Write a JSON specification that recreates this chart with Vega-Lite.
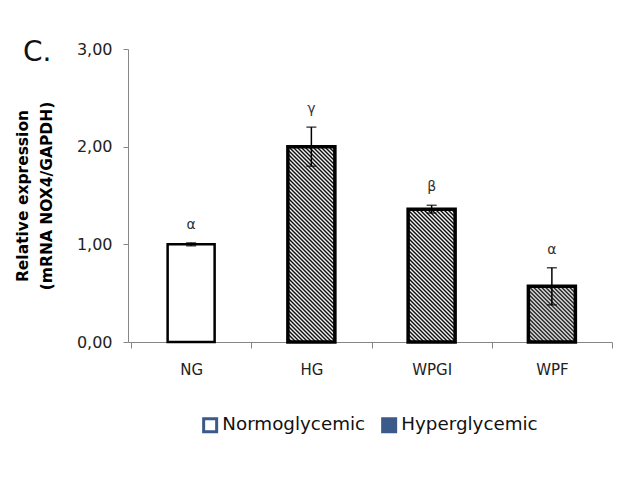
{
"$schema":"https://vega.github.io/schema/vega-lite/v6.json",
"width":484,"height":293,
"autosize":{"type":"none"},
"padding":{"left":128,"top":49,"right":24,"bottom":144},
"background":"white",
"config":{"view":{"stroke":null},"font":"DejaVu Sans"},
"title":{"text":"C.","anchor":"start","frame":"group","font":"DejaVu Sans","fontSize":28,"fontWeight":"normal","color":"#111","baseline":"alphabetic","offset":0,"dx":-105,"dy":48},
"data":{"values":[
{"treatment":"NG","glycemia":"Normoglycemic","value":1.00,"lower":0.985,"upper":1.015,"letter":"α"},
{"treatment":"HG","glycemia":"Hyperglycemic","value":2.00,"lower":1.80,"upper":2.20,"letter":"γ"},
{"treatment":"WPGI","glycemia":"Hyperglycemic","value":1.36,"lower":1.32,"upper":1.40,"letter":"β"},
{"treatment":"WPF","glycemia":"Hyperglycemic","value":0.57,"lower":0.38,"upper":0.76,"letter":"α"}
]},
"encoding":{"x":{"field":"treatment","type":"nominal","sort":["NG","HG","WPGI","WPF"],"scale":{"paddingInner":0,"paddingOuter":0.0125,"align":1},"axis":{"title":null,"labelAngle":0,"tickBand":"extent","domainColor":"#868686","tickColor":"#868686","tickSize":6,"labelPadding":14,"labelFont":"DejaVu Sans","labelFontSize":15,"labelColor":"#222"}}},
"layer":[
{"mark":{"type":"bar","width":47},
 "encoding":{
  "y":{"field":"value","type":"quantitative","scale":{"domain":[0,3],"nice":false},"axis":{"title":["Relative expression","(mRNA NOX4/GAPDH)"],"values":[0,1,2,3],"labelExpr":"replace(format(datum.value,'.2f'),'.',',')","grid":false,"domainColor":"#868686","tickColor":"#868686","tickSize":5,"labelPadding":11,"labelFont":"DejaVu Sans","labelFontSize":16,"labelColor":"#222","titleFont":"DejaVu Sans","titleFontSize":15.5,"titleFontWeight":"bold","titleColor":"#000","titleLineHeight":23.5,"titlePadding":22}},
  "fill":{"field":"glycemia","type":"nominal","scale":{"domain":["Normoglycemic","Hyperglycemic"],"range":["white","#3b5a8a"]},"legend":{"title":null,"orient":"none","legendX":73,"legendY":367,"direction":"horizontal","symbolType":"square","symbolSize":169,"symbolStrokeColor":"#3b5a8a","symbolStrokeWidth":3,"labelFont":"DejaVu Sans","labelFontSize":18.3,"labelColor":"#111","labelOffset":3,"columnPadding":10}}
 }},
{"mark":{"type":"bar","width":47,"stroke":"black"},
 "encoding":{
  "y":{"field":"value","type":"quantitative","axis":{"title":["Relative expression","(mRNA NOX4/GAPDH)"]}},
  "strokeWidth":{"condition":{"test":"datum.treatment==='NG'","value":2.5},"value":3.5},
  "fill":{"condition":[
   {"test":"datum.treatment==='HG'","value":{"gradient":"linear","x1":0,"y1":1,"x2":0.4658,"y2":-0.9357,"stops":[
{"offset":0,"color":"#000"},{"offset":0.005,"color":"#fff"},{"offset":0.01,"color":"#000"},{"offset":0.015,"color":"#fff"},{"offset":0.02,"color":"#000"},{"offset":0.025,"color":"#fff"},{"offset":0.03,"color":"#000"},{"offset":0.035,"color":"#fff"},{"offset":0.04,"color":"#000"},{"offset":0.045,"color":"#fff"},
{"offset":0.05,"color":"#000"},{"offset":0.055,"color":"#fff"},{"offset":0.06,"color":"#000"},{"offset":0.065,"color":"#fff"},{"offset":0.07,"color":"#000"},{"offset":0.075,"color":"#fff"},{"offset":0.08,"color":"#000"},{"offset":0.085,"color":"#fff"},{"offset":0.09,"color":"#000"},{"offset":0.095,"color":"#fff"},
{"offset":0.1,"color":"#000"},{"offset":0.105,"color":"#fff"},{"offset":0.11,"color":"#000"},{"offset":0.115,"color":"#fff"},{"offset":0.12,"color":"#000"},{"offset":0.125,"color":"#fff"},{"offset":0.13,"color":"#000"},{"offset":0.135,"color":"#fff"},{"offset":0.14,"color":"#000"},{"offset":0.145,"color":"#fff"},
{"offset":0.15,"color":"#000"},{"offset":0.155,"color":"#fff"},{"offset":0.16,"color":"#000"},{"offset":0.165,"color":"#fff"},{"offset":0.17,"color":"#000"},{"offset":0.175,"color":"#fff"},{"offset":0.18,"color":"#000"},{"offset":0.185,"color":"#fff"},{"offset":0.19,"color":"#000"},{"offset":0.195,"color":"#fff"},
{"offset":0.2,"color":"#000"},{"offset":0.205,"color":"#fff"},{"offset":0.21,"color":"#000"},{"offset":0.215,"color":"#fff"},{"offset":0.22,"color":"#000"},{"offset":0.225,"color":"#fff"},{"offset":0.23,"color":"#000"},{"offset":0.235,"color":"#fff"},{"offset":0.24,"color":"#000"},{"offset":0.245,"color":"#fff"},
{"offset":0.25,"color":"#000"},{"offset":0.255,"color":"#fff"},{"offset":0.26,"color":"#000"},{"offset":0.265,"color":"#fff"},{"offset":0.27,"color":"#000"},{"offset":0.275,"color":"#fff"},{"offset":0.28,"color":"#000"},{"offset":0.285,"color":"#fff"},{"offset":0.29,"color":"#000"},{"offset":0.295,"color":"#fff"},
{"offset":0.3,"color":"#000"},{"offset":0.305,"color":"#fff"},{"offset":0.31,"color":"#000"},{"offset":0.315,"color":"#fff"},{"offset":0.32,"color":"#000"},{"offset":0.325,"color":"#fff"},{"offset":0.33,"color":"#000"},{"offset":0.335,"color":"#fff"},{"offset":0.34,"color":"#000"},{"offset":0.345,"color":"#fff"},
{"offset":0.35,"color":"#000"},{"offset":0.355,"color":"#fff"},{"offset":0.36,"color":"#000"},{"offset":0.365,"color":"#fff"},{"offset":0.37,"color":"#000"},{"offset":0.375,"color":"#fff"},{"offset":0.38,"color":"#000"},{"offset":0.385,"color":"#fff"},{"offset":0.39,"color":"#000"},{"offset":0.395,"color":"#fff"},
{"offset":0.4,"color":"#000"},{"offset":0.405,"color":"#fff"},{"offset":0.41,"color":"#000"},{"offset":0.415,"color":"#fff"},{"offset":0.42,"color":"#000"},{"offset":0.425,"color":"#fff"},{"offset":0.43,"color":"#000"},{"offset":0.435,"color":"#fff"},{"offset":0.44,"color":"#000"},{"offset":0.445,"color":"#fff"},
{"offset":0.45,"color":"#000"},{"offset":0.455,"color":"#fff"},{"offset":0.46,"color":"#000"},{"offset":0.465,"color":"#fff"},{"offset":0.47,"color":"#000"},{"offset":0.475,"color":"#fff"},{"offset":0.48,"color":"#000"},{"offset":0.485,"color":"#fff"},{"offset":0.49,"color":"#000"},{"offset":0.495,"color":"#fff"},
{"offset":0.5,"color":"#000"},{"offset":0.505,"color":"#fff"},{"offset":0.51,"color":"#000"},{"offset":0.515,"color":"#fff"},{"offset":0.52,"color":"#000"},{"offset":0.525,"color":"#fff"},{"offset":0.53,"color":"#000"},{"offset":0.535,"color":"#fff"},{"offset":0.54,"color":"#000"},{"offset":0.545,"color":"#fff"},
{"offset":0.55,"color":"#000"},{"offset":0.555,"color":"#fff"},{"offset":0.56,"color":"#000"},{"offset":0.565,"color":"#fff"},{"offset":0.57,"color":"#000"},{"offset":0.575,"color":"#fff"},{"offset":0.58,"color":"#000"},{"offset":0.585,"color":"#fff"},{"offset":0.59,"color":"#000"},{"offset":0.595,"color":"#fff"},
{"offset":0.6,"color":"#000"},{"offset":0.605,"color":"#fff"},{"offset":0.61,"color":"#000"}
   ]}},
   {"test":"datum.treatment==='WPGI'","value":{"gradient":"linear","x1":0,"y1":1,"x2":0.9468,"y2":-1.6757,"stops":[
{"offset":0,"color":"#000"},{"offset":0.005,"color":"#fff"},{"offset":0.01,"color":"#000"},{"offset":0.015,"color":"#fff"},{"offset":0.02,"color":"#000"},{"offset":0.025,"color":"#fff"},{"offset":0.03,"color":"#000"},{"offset":0.035,"color":"#fff"},{"offset":0.04,"color":"#000"},{"offset":0.045,"color":"#fff"},
{"offset":0.05,"color":"#000"},{"offset":0.055,"color":"#fff"},{"offset":0.06,"color":"#000"},{"offset":0.065,"color":"#fff"},{"offset":0.07,"color":"#000"},{"offset":0.075,"color":"#fff"},{"offset":0.08,"color":"#000"},{"offset":0.085,"color":"#fff"},{"offset":0.09,"color":"#000"},{"offset":0.095,"color":"#fff"},
{"offset":0.1,"color":"#000"},{"offset":0.105,"color":"#fff"},{"offset":0.11,"color":"#000"},{"offset":0.115,"color":"#fff"},{"offset":0.12,"color":"#000"},{"offset":0.125,"color":"#fff"},{"offset":0.13,"color":"#000"},{"offset":0.135,"color":"#fff"},{"offset":0.14,"color":"#000"},{"offset":0.145,"color":"#fff"},
{"offset":0.15,"color":"#000"},{"offset":0.155,"color":"#fff"},{"offset":0.16,"color":"#000"},{"offset":0.165,"color":"#fff"},{"offset":0.17,"color":"#000"},{"offset":0.175,"color":"#fff"},{"offset":0.18,"color":"#000"},{"offset":0.185,"color":"#fff"},{"offset":0.19,"color":"#000"},{"offset":0.195,"color":"#fff"},
{"offset":0.2,"color":"#000"},{"offset":0.205,"color":"#fff"},{"offset":0.21,"color":"#000"},{"offset":0.215,"color":"#fff"},{"offset":0.22,"color":"#000"},{"offset":0.225,"color":"#fff"},{"offset":0.23,"color":"#000"},{"offset":0.235,"color":"#fff"},{"offset":0.24,"color":"#000"},{"offset":0.245,"color":"#fff"},
{"offset":0.25,"color":"#000"},{"offset":0.255,"color":"#fff"},{"offset":0.26,"color":"#000"},{"offset":0.265,"color":"#fff"},{"offset":0.27,"color":"#000"},{"offset":0.275,"color":"#fff"},{"offset":0.28,"color":"#000"},{"offset":0.285,"color":"#fff"},{"offset":0.29,"color":"#000"},{"offset":0.295,"color":"#fff"},
{"offset":0.3,"color":"#000"},{"offset":0.305,"color":"#fff"},{"offset":0.31,"color":"#000"},{"offset":0.315,"color":"#fff"},{"offset":0.32,"color":"#000"},{"offset":0.325,"color":"#fff"},{"offset":0.33,"color":"#000"},{"offset":0.335,"color":"#fff"},{"offset":0.34,"color":"#000"},{"offset":0.345,"color":"#fff"},
{"offset":0.35,"color":"#000"},{"offset":0.355,"color":"#fff"},{"offset":0.36,"color":"#000"},{"offset":0.365,"color":"#fff"},{"offset":0.37,"color":"#000"},{"offset":0.375,"color":"#fff"},{"offset":0.38,"color":"#000"},{"offset":0.385,"color":"#fff"},{"offset":0.39,"color":"#000"},{"offset":0.395,"color":"#fff"},
{"offset":0.4,"color":"#000"},{"offset":0.405,"color":"#fff"},{"offset":0.41,"color":"#000"},{"offset":0.415,"color":"#fff"},{"offset":0.42,"color":"#000"},{"offset":0.425,"color":"#fff"},{"offset":0.43,"color":"#000"},{"offset":0.435,"color":"#fff"},{"offset":0.44,"color":"#000"},{"offset":0.445,"color":"#fff"},
{"offset":0.45,"color":"#000"},{"offset":0.455,"color":"#fff"}
   ]}},
   {"test":"datum.treatment==='WPF'","value":{"gradient":"linear","x1":0,"y1":1,"x2":3.541,"y2":-3.1945,"stops":[
{"offset":0,"color":"#000"},{"offset":0.005,"color":"#fff"},{"offset":0.01,"color":"#000"},{"offset":0.015,"color":"#fff"},{"offset":0.02,"color":"#000"},{"offset":0.025,"color":"#fff"},{"offset":0.03,"color":"#000"},{"offset":0.035,"color":"#fff"},{"offset":0.04,"color":"#000"},{"offset":0.045,"color":"#fff"},
{"offset":0.05,"color":"#000"},{"offset":0.055,"color":"#fff"},{"offset":0.06,"color":"#000"},{"offset":0.065,"color":"#fff"},{"offset":0.07,"color":"#000"},{"offset":0.075,"color":"#fff"},{"offset":0.08,"color":"#000"},{"offset":0.085,"color":"#fff"},{"offset":0.09,"color":"#000"},{"offset":0.095,"color":"#fff"},
{"offset":0.1,"color":"#000"},{"offset":0.105,"color":"#fff"},{"offset":0.11,"color":"#000"},{"offset":0.115,"color":"#fff"},{"offset":0.12,"color":"#000"},{"offset":0.125,"color":"#fff"},{"offset":0.13,"color":"#000"},{"offset":0.135,"color":"#fff"},{"offset":0.14,"color":"#000"},{"offset":0.145,"color":"#fff"},
{"offset":0.15,"color":"#000"},{"offset":0.155,"color":"#fff"},{"offset":0.16,"color":"#000"},{"offset":0.165,"color":"#fff"},{"offset":0.17,"color":"#000"},{"offset":0.175,"color":"#fff"},{"offset":0.18,"color":"#000"},{"offset":0.185,"color":"#fff"},{"offset":0.19,"color":"#000"},{"offset":0.195,"color":"#fff"},
{"offset":0.2,"color":"#000"},{"offset":0.205,"color":"#fff"},{"offset":0.21,"color":"#000"},{"offset":0.215,"color":"#fff"},{"offset":0.22,"color":"#000"},{"offset":0.225,"color":"#fff"},{"offset":0.23,"color":"#000"},{"offset":0.235,"color":"#fff"},{"offset":0.24,"color":"#000"},{"offset":0.245,"color":"#fff"},
{"offset":0.25,"color":"#000"},{"offset":0.255,"color":"#fff"},{"offset":0.26,"color":"#000"}
   ]}}
  ],"value":"white"}
 }},
{"mark":{"type":"errorbar","ticks":{"size":10},"thickness":1.5,"color":"black"},
 "encoding":{"y":{"field":"lower","type":"quantitative","axis":{"title":["Relative expression","(mRNA NOX4/GAPDH)"]}},"y2":{"field":"upper"}}},
{"mark":{"type":"text","dy":-14,"baseline":"alphabetic","font":"DejaVu Sans","fontSize":14,"color":"#333"},
 "encoding":{"y":{"field":"upper","type":"quantitative","axis":{"title":["Relative expression","(mRNA NOX4/GAPDH)"]}},"text":{"field":"letter"}}}
]
}
